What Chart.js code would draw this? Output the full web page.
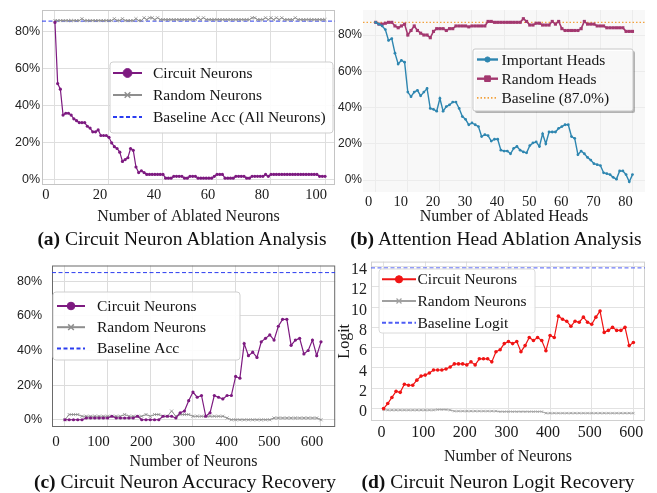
<!DOCTYPE html>
<html>
<head>
<meta charset="utf-8">
<script src="https://cdn.jsdelivr.net/npm/chart.js@4.4.1/dist/chart.umd.min.js"></script>
<style>
  body { margin: 0; background: #fff; width: 657px; height: 493px; position: relative; overflow: hidden; font-family: 'Liberation Serif', 'Times New Roman', serif; }
  canvas { position: absolute; }
  .cap { position: absolute; width: 400px; text-align: center; font-size: 19.5px; line-height: 24px; color: #111; white-space: nowrap; }
</style>
</head>
<body>
<canvas id="chA" width="340" height="226" style="left:0;top:0"></canvas>
<canvas id="chB" width="327" height="226" style="left:330px;top:0"></canvas>
<canvas id="chC" width="340" height="223" style="left:0;top:248px"></canvas>
<canvas id="chD" width="327" height="218" style="left:330px;top:248px"></canvas>
<div class="cap" style="left:-18px;top:227px"><b>(a)</b> Circuit Neuron Ablation Analysis</div>
<div class="cap" style="left:296px;top:227px"><b>(b)</b> Attention Head Ablation Analysis</div>
<div class="cap" style="left:-15px;top:470px"><b>(c)</b> Circuit Neuron Accuracy Recovery</div>
<div class="cap" style="left:298px;top:470px"><b>(d)</b> Circuit Neuron Logit Recovery</div>
<script>
const SERIF = "'Liberation Serif', 'Times New Roman', serif";
const SANS = "'Liberation Sans', Arial, sans-serif";

// (a) neuron ablation
const ablatedNeurons = Array.from({ length: 101 }, (_, i) => i);
const circuitAblation = [
  85, 52, 49, 35, 36, 36, 35, 33, 32, 31, 31, 31, 29, 28, 26, 26, 27, 24, 24, 24,
  23, 20, 18, 17, 15, 10, 11, 12, 17, 16, 7, 4, 5, 4, 3, 3, 3, 3, 3, 3,
  3, 1, 1, 1, 2, 2, 2, 2, 1, 1, 2, 2, 2, 1, 1, 1, 1, 1, 1, 2,
  3, 3, 3, 1, 1, 1, 1, 2, 2, 2, 2, 1, 1, 2, 2, 2, 2, 2, 3, 2,
  3, 3, 3, 3, 3, 3, 3, 3, 3, 3, 3, 3, 3, 3, 3, 3, 3, 3, 2, 2, 2
];
const randomAblation = [
  86, 86, 86, 86, 86, 86, 86, 86, 86, 86, 87, 86, 86, 86, 86, 86, 86, 86, 86, 86,
  86, 86, 87, 86, 86, 87, 86, 86, 86, 86, 87, 86, 86, 87.5, 86.5, 87.5, 87.5, 86.5, 87.5, 86.5,
  86.5, 86.5, 86.5, 86.5, 86.5, 86.5, 86.5, 86.5, 86.5, 86.5, 86.5, 86.5, 86.5, 87.5, 86.5, 87.5, 86.5, 86.5, 86.5, 86.5,
  86.5, 86.5, 86.5, 86.5, 86.5, 86.5, 86.5, 86.5, 86.5, 86.5, 86.5, 86.5, 86.5, 87.5, 87.5, 86.5, 86.5, 86.5, 87.5, 86.5,
  87.5, 86.5, 87.5, 86.5, 87.5, 86.5, 86.5, 86.5, 86.5, 87.5, 86.5, 86.5, 86.5, 86.5, 86.5, 86.5, 86.5, 86.5, 86.5, 86.5, 86.5
];
const baselineAblation = 85.7;
const ablationTicks = [0, 20, 40, 60, 80, 100];
const pctTicks = [0, 20, 40, 60, 80];

// (b) head ablation
const ablatedHeads = Array.from({ length: 81 }, (_, i) => i);
const importantHeads = [
  87, 86, 85, 83, 77, 78, 70, 64, 66, 65,
  48.5, 46, 48.5, 49.5, 46.5, 48.5, 50.5, 39.5, 39, 38,
  45, 38, 40.5, 41.5, 43, 43, 39.5, 35, 33.5, 30.5,
  31.5, 30.5, 29.5, 24, 25, 24.5, 21.5, 22.5, 22.5, 16.5,
  16, 16, 14.5, 17.5, 18.5, 16.5, 15.5, 15, 19, 20.5,
  21, 18.5, 25.5, 20, 26.5, 26.5, 26.5, 28.5, 29.5, 30.5,
  30.5, 24, 23, 14, 16, 14.5, 12.5, 11, 9, 8.5,
  8, 4, 3.5, 3, 1.5, 0.5, 5, 5, 3, -1,
  3
];
const randomHeads = [
  87, 86, 86, 86.5, 87, 87, 85, 84, 85, 86,
  80, 82.5, 85, 82.5, 81, 80, 80, 78.5, 82, 83.5,
  83.5, 83.5, 82.5, 83.5, 83.5, 85, 85, 85, 85, 84.5,
  85, 85, 85, 85, 85, 87.5, 87.5, 87, 87, 87,
  87, 87, 87, 87, 87, 87, 89, 87.5, 85.5, 85.5,
  86.5, 86.5, 85.5, 85.5, 85.5, 87.5, 86, 87.5, 83.5, 82.5,
  82.5, 82.5, 82.5, 82.5, 83.5, 87.5, 86, 86, 86, 85,
  85, 85, 84, 84, 84, 84, 84, 84, 82, 82,
  82
];
const baselineHeads = 87.0;
const headTicks = [0, 10, 20, 30, 40, 50, 60, 70, 80];

// (c) accuracy recovery
const neuronCounts = Array.from({ length: 61 }, (_, i) => i * 10);
const circuitRecovery = [
  0, 0, 0, 0, 0, 1, 1, 1, 1, 1,
  1, 2, 1, 1, 1, 1, 1, 2, 0, 0,
  0, 0, 0, 2, 2, 2, 1, 4, 5, 11,
  16, 13, 14, 2, 4, 14, 13, 12, 14, 14,
  25, 24, 44, 37, 39, 36, 45, 47, 49, 46,
  54, 58, 58, 43, 46, 47, 38, 40, 46, 37,
  45
];
const randomRecovery = [
  0, 3, 3, 3, 2, 2, 2, 2, 2, 2,
  2, 2, 2, 2, 3, 2, 2, 2, 2, 3,
  2, 3, 3, 2, 2, 5, 2, 3, 3, 3,
  2, 2, 2, 2, 2, 2, 2, 2, 1, 0,
  0, 0, 0, 0, 0, 0, 0, 0, 0, 1,
  1, 1, 1, 1, 1, 1, 1, 1, 1, 1,
  0
];
const baselineRecovery = 85;
const countTicks = [0, 100, 200, 300, 400, 500, 600];

// (d) logit recovery
const circuitLogit = [
  0, 0.5, 1.1, 1.7, 1.6, 2.4, 2.3, 2.3, 2.8, 3.2,
  3.3, 3.5, 3.8, 3.8, 3.8, 3.9, 4.1, 4.4, 4.4, 4.4,
  4.3, 4.6, 4.3, 4.9, 4.9, 4.9, 4.6, 5.6, 5.8, 6.4,
  6.6, 6.4, 6.6, 5.6, 6.2, 7.0, 6.7, 7.0, 6.7, 5.7,
  7.2, 7.0, 9.1, 8.8, 8.6, 8.1, 8.6, 8.5, 9.0, 8.5,
  8.3, 9.0, 9.6, 7.5, 7.7, 8.0, 7.7, 7.7, 8.0, 6.2,
  6.5
];
const randomLogit = [
  -0.1, -0.15, -0.15, -0.15, -0.15, -0.15, -0.15, -0.15, -0.15, -0.15,
  -0.15, -0.15, -0.15, -0.1, -0.1, -0.1, -0.15, -0.25, -0.25, -0.25,
  -0.25, -0.25, -0.25, -0.25, -0.25, -0.25, -0.25, -0.25, -0.3, -0.3,
  -0.3, -0.3, -0.3, -0.3, -0.3, -0.3, -0.3, -0.3, -0.3, -0.45,
  -0.45, -0.45, -0.45, -0.45, -0.45, -0.45, -0.45, -0.45, -0.45, -0.45,
  -0.45, -0.45, -0.45, -0.45, -0.45, -0.45, -0.45, -0.45, -0.45, -0.45,
  -0.45
];
const baselineLogit = 13.85;
const logitTicks = [0, 2, 4, 6, 8, 10, 12, 14];

const pts = (xs, ys) => xs.map((x, i) => ({ x: x, y: ys[i] }));
const hline = (y, x0, x1) => [{ x: x0, y: y }, { x: x1, y: y }];

function roundRect(ctx, x, y, w, h, r) {
  ctx.beginPath();
  ctx.moveTo(x + r, y);
  ctx.arcTo(x + w, y, x + w, y + h, r);
  ctx.arcTo(x + w, y + h, x, y + h, r);
  ctx.arcTo(x, y + h, x, y, r);
  ctx.arcTo(x, y, x + w, y, r);
  ctx.closePath();
}

const plotBox = {
  id: 'plotBox',
  beforeDraw(chart, args, o) {
    if (!o.bg) return;
    const c = chart.chartArea, ctx = chart.ctx;
    ctx.save();
    ctx.fillStyle = o.bg;
    ctx.fillRect(c.left, c.top, c.width, c.height);
    ctx.restore();
  },
  beforeDatasetsDraw(chart, args, o) {
    if (!o.frame) return;
    const c = chart.chartArea, ctx = chart.ctx;
    ctx.save();
    ctx.strokeStyle = o.frame;
    ctx.lineWidth = 1;
    ctx.strokeRect(c.left + 0.5, c.top + 0.5, c.width - 1, c.height - 1);
    ctx.restore();
  }
};

const boxLegend = {
  id: 'boxLegend',
  afterDatasetsDraw(chart, args, o) {
    if (!o.box) return;
    const ctx = chart.ctx;
    const bx = o.box[0], by = o.box[1], bw = o.box[2], bh = o.box[3];
    ctx.save();
    if (o.shadow) {
      ctx.fillStyle = 'rgba(0,0,0,0.28)';
      roundRect(ctx, bx + 2, by + 2, bw, bh, o.radius);
      ctx.fill();
    }
    roundRect(ctx, bx, by, bw, bh, o.radius);
    ctx.fillStyle = 'rgba(255,255,255,0.9)';
    ctx.fill();
    ctx.strokeStyle = o.border;
    ctx.lineWidth = 1;
    ctx.stroke();
    chart.data.datasets.forEach((ds, i) => {
      const y = o.rowY + i * o.rowStep;
      ctx.setLineDash(ds.borderDash || []);
      ctx.strokeStyle = ds.borderColor;
      ctx.lineWidth = o.lineWidths[i];
      ctx.beginPath();
      ctx.moveTo(o.lineX[0], y);
      ctx.lineTo(o.lineX[1], y);
      ctx.stroke();
      ctx.setLineDash([]);
      const m = o.markers[i];
      if (m) {
        ctx.fillStyle = ds.borderColor;
        ctx.strokeStyle = ds.borderColor;
        ctx.lineWidth = m.bw;
        Chart.helpers.drawPoint(ctx, { pointStyle: m.style, radius: m.r, rotation: 0, borderWidth: m.bw },
          (o.lineX[0] + o.lineX[1]) / 2, y);
      }
      ctx.fillStyle = '#151515';
      ctx.font = o.fontSize + 'px ' + SERIF;
      ctx.textAlign = 'left';
      ctx.textBaseline = 'middle';
      ctx.fillText(ds.label, o.textX, y + 1);
    });
    ctx.restore();
  }
};

Chart.register(plotBox, boxLegend);

function makeChart(id, p) {
  return new Chart(document.getElementById(id), {
    type: 'line',
    data: { datasets: p.datasets },
    options: {
      responsive: false,
      animation: false,
      devicePixelRatio: 1,
      layout: { padding: { top: p.padTop, right: p.padRight, left: 0, bottom: 0 } },
      plugins: {
        legend: { display: false },
        tooltip: { enabled: false },
        plotBox: { bg: p.bg || null, frame: p.frame || null },
        boxLegend: p.legend
      },
      scales: {
        x: {
          type: 'linear',
          min: p.x.min, max: p.x.max,
          afterFit: s => { s.height = p.x.height; },
          afterBuildTicks: s => { s.ticks = p.x.ticks.map(v => ({ value: v })); },
          grid: { color: p.grid, drawTicks: false, lineWidth: 1 },
          border: { display: false },
          ticks: {
            autoSkip: false, maxRotation: 0, padding: p.x.pad, labelOffset: p.x.offset,
            color: '#1a1a1a', font: { family: SERIF, size: p.x.size }
          },
          title: {
            display: true, text: p.x.title, color: '#1a1a1a',
            font: { family: SERIF, size: 16 }, padding: { top: 0, bottom: 0 }
          }
        },
        y: {
          min: p.y.min, max: p.y.max,
          afterFit: s => { s.width = p.y.width; },
          afterBuildTicks: s => { s.ticks = p.y.ticks.map(v => ({ value: v })); },
          grid: { color: p.grid, drawTicks: false, lineWidth: 1 },
          border: { display: false },
          ticks: {
            padding: p.y.pad, labelOffset: p.y.offset || 0, color: '#222',
            font: { family: p.y.family, size: p.y.size },
            callback: p.y.fmt
          },
          title: p.y.title ? {
            display: true, text: p.y.title, color: '#1a1a1a',
            font: { family: SERIF, size: 16 }, padding: { top: 5, bottom: 0 }
          } : { display: false }
        }
      }
    }
  });
}

const pct = v => v + '%';
const PURPLE = '#7d1a80', GREY = '#8e8e8e', BLUE = '#2a3cf0';

// (a)
makeChart('chA', {
  padTop: 10, padRight: 5, grid: '#dedede', frame: '#c4c4c4',
  x: { min: -4.8, max: 103.7, ticks: ablationTicks, height: 41, pad: 1, offset: -9, size: 14.5, title: 'Number of Ablated Neurons' },
  y: { min: -2.7, max: 91.7, ticks: pctTicks, width: 42, pad: 2, family: SANS, size: 12.5, fmt: pct },
  datasets: [
    { label: 'Circuit Neurons', data: pts(ablatedNeurons, circuitAblation), borderColor: PURPLE, backgroundColor: PURPLE,
      borderWidth: 1.2, pointRadius: 1.6, pointBorderWidth: 0, pointBackgroundColor: PURPLE },
    { label: 'Random Neurons', data: pts(ablatedNeurons, randomAblation), borderColor: GREY, backgroundColor: GREY,
      borderWidth: 1, pointStyle: 'crossRot', pointRadius: 2.2, pointBorderWidth: 0.8 },
    { label: 'Baseline Acc (All Neurons)', data: hline(baselineAblation, -4.8, 103.7), borderColor: BLUE,
      borderWidth: 1, borderDash: [4, 2.5], pointRadius: 0 }
  ],
  legend: { box: [110, 62, 223, 71], radius: 3, border: '#cfcfcf', shadow: false, rowY: 73, rowStep: 22,
    lineX: [113, 142], textX: 153, fontSize: 15.5, lineWidths: [2, 2, 2],
    markers: [{ style: 'circle', r: 4.4, bw: 1 }, { style: 'crossRot', r: 4, bw: 1.5 }, null] }
});

// (b)
const TEAL = '#2e86b0', MAGENTA = '#a3386f', ORANGE = '#f2a23e';
makeChart('chB', {
  padTop: 10, padRight: 12, grid: '#ececec', bg: '#f8f8f8',
  x: { min: -3.96, max: 83.9, ticks: headTicks, height: 34, pad: 1, offset: -7, size: 14.5, title: 'Number of Ablated Heads' },
  y: { min: -6.6, max: 93.8, ticks: pctTicks, width: 33, pad: 1, family: SANS, size: 12, fmt: pct },
  datasets: [
    { label: 'Important Heads', data: pts(ablatedHeads, importantHeads), borderColor: TEAL, backgroundColor: TEAL,
      borderWidth: 1.4, pointRadius: 1.4, pointBorderWidth: 0, pointBackgroundColor: TEAL },
    { label: 'Random Heads', data: pts(ablatedHeads, randomHeads), borderColor: MAGENTA, backgroundColor: MAGENTA,
      borderWidth: 1.6, pointStyle: 'rect', pointRadius: 2.2, pointBorderWidth: 0, pointBackgroundColor: MAGENTA },
    { label: 'Baseline (87.0%)', data: hline(baselineHeads, -3.96, 83.9), borderColor: ORANGE,
      borderWidth: 1.2, borderDash: [1.5, 2], pointRadius: 0 }
  ],
  legend: { box: [143, 49, 160, 62], radius: 2, border: '#c8c8c8', shadow: true, rowY: 59.5, rowStep: 19.2,
    lineX: [147, 168], textX: 171.5, fontSize: 15.5, lineWidths: [2.4, 2.4, 1.6],
    markers: [{ style: 'circle', r: 2.6, bw: 1 }, { style: 'rect', r: 4, bw: 1 }, null] }
});

// (c)
makeChart('chC', {
  padTop: 9, padRight: 3, grid: '#dcdcdc', frame: '#6a6a6a',
  x: { min: -30.3, max: 633.3, ticks: countTicks, height: 44, pad: 6, offset: -9, size: 15, title: 'Number of Neurons' },
  y: { min: -4.2, max: 89.1, ticks: pctTicks, width: 52, pad: 10, family: SANS, size: 12.5, fmt: pct },
  datasets: [
    { label: 'Circuit Neurons', data: pts(neuronCounts, circuitRecovery), borderColor: PURPLE, backgroundColor: PURPLE,
      borderWidth: 1.2, pointRadius: 1.6, pointBorderWidth: 0, pointBackgroundColor: PURPLE },
    { label: 'Random Neurons', data: pts(neuronCounts, randomRecovery), borderColor: GREY, backgroundColor: GREY,
      borderWidth: 1, pointStyle: 'crossRot', pointRadius: 2.2, pointBorderWidth: 0.8 },
    { label: 'Baseline Acc', data: hline(baselineRecovery, -30.3, 633.3), borderColor: BLUE,
      borderWidth: 1, borderDash: [4, 2.5], pointRadius: 0 }
  ],
  legend: { box: [53, 44, 187, 68], radius: 3, border: '#cfcfcf', shadow: false, rowY: 58, rowStep: 21.2,
    lineX: [57, 85], textX: 97, fontSize: 15.5, lineWidths: [2, 2, 2],
    markers: [{ style: 'circle', r: 3.8, bw: 1 }, { style: 'crossRot', r: 4, bw: 1.5 }, null] }
});

// (d)
const RED = '#f01414', LBLUE = '#4d5cf5', LGREY = '#a0a0a0';
makeChart('chD', {
  padTop: 10, padRight: 12, grid: '#e2e2e2', frame: '#d0d0d0',
  x: { min: -30.2, max: 628, ticks: countTicks, height: 45, pad: 2.5, offset: -2, size: 16, title: 'Number of Neurons' },
  y: { min: -1.22, max: 14.47, ticks: logitTicks, width: 41, pad: 4, offset: 3.5, family: SERIF, size: 16,
    fmt: v => v, title: 'Logit' },
  datasets: [
    { label: 'Circuit Neurons', data: pts(neuronCounts, circuitLogit), borderColor: RED, backgroundColor: RED,
      borderWidth: 1.2, pointRadius: 1.8, pointBorderWidth: 0, pointBackgroundColor: RED },
    { label: 'Random Neurons', data: pts(neuronCounts, randomLogit), borderColor: LGREY, backgroundColor: LGREY,
      borderWidth: 1, pointStyle: 'crossRot', pointRadius: 1.8, pointBorderWidth: 0.8 },
    { label: 'Baseline Logit', data: hline(baselineLogit, -30.2, 628), borderColor: LBLUE,
      borderWidth: 1, borderDash: [4, 2.5], pointRadius: 0 }
  ],
  legend: { box: [49, 21, 156, 64], radius: 3, border: '#dadada', shadow: false, rowY: 31.3, rowStep: 21.7,
    lineX: [52, 86], textX: 87.5, fontSize: 15.5, lineWidths: [2, 2, 2],
    markers: [{ style: 'circle', r: 3.6, bw: 1 }, { style: 'crossRot', r: 3.5, bw: 1.2 }, null] }
});
</script>
</body>
</html>
